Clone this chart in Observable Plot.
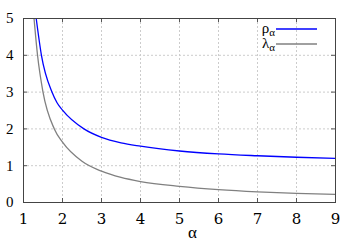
<!DOCTYPE html>
<html>
<head>
<meta charset="utf-8">
<script src="https://cdn.jsdelivr.net/npm/d3@7"></script>
<script src="https://cdn.jsdelivr.net/npm/@observablehq/plot@0.6"></script>
<style>
  html, body { margin: 0; padding: 0; background: white; }
</style>
</head>
<body>
<div id="chart"></div>
<script>
const xTicks = [1, 2, 3, 4, 5, 6, 7, 8, 9];
const yTicks = [0, 1, 2, 3, 4, 5];
const alphaRho = [1.326, 1.46, 1.73, 1.86, 2, 2.55, 3, 3.5, 4, 5, 6, 7, 8, 9];
const rho      = [5, 4, 3, 2.71, 2.51, 2.0, 1.77, 1.62, 1.53, 1.40, 1.32, 1.27, 1.23, 1.20];
const alphaLam = [1.27, 1.36, 1.50, 1.79, 2, 2.5, 3, 3.5, 4, 5, 6, 7, 8, 9];
const lam      = [5, 4, 3, 2, 1.64, 1.12, 0.85, 0.68, 0.57, 0.44, 0.35, 0.29, 0.25, 0.22];
const seriesNames = ["ρ", "λ"];
const subscript = "α";
const xLabel = "α";

const rhoData = alphaRho.map((a, i) => ({a, v: rho[i]}));
const lamData = alphaLam.map((a, i) => ({a, v: lam[i]}));

const W = 349, H = 244, mL = 23, mR = 14, mT = 18, mB = 42;
const innerW = W - mL - mR, innerH = H - mT - mB;
const tickLen = 4;
const blue = "#0000ff", gray = "#808080";
const serif = "Liberation Serif";

const chart = Plot.plot({
  width: W, height: H,
  marginLeft: mL, marginRight: mR, marginTop: mT, marginBottom: mB,
  style: {fontSize: "15px", color: "black", background: "white"},
  x: {domain: [1, 9], ticks: xTicks, label: null},
  y: {domain: [0, 5], ticks: yTicks, label: null},
  marks: [
    Plot.gridX(xTicks.slice(1, -1), {stroke: "#cccccc", strokeOpacity: 1, strokeDasharray: "2,2"}),
    Plot.gridY(yTicks.slice(1, -1), {stroke: "#cccccc", strokeOpacity: 1, strokeDasharray: "2,2"}),
    Plot.axisX(xTicks, {tickSize: 0, tickPadding: 11, tickFormat: d => String(d), fontSize: 15, fontFamily: "DejaVu Serif", fill: "black"}),
    Plot.axisY(yTicks, {tickSize: 0, tickPadding: 10, tickFormat: d => String(d), fontSize: 15, fontFamily: serif, fill: "black"}),
    Plot.ruleX(xTicks, {x: d => d, insetTop: innerH - tickLen, stroke: "#555"}),
    Plot.ruleX(xTicks, {x: d => d, insetBottom: innerH - tickLen, stroke: "#555"}),
    Plot.ruleY(yTicks, {y: d => d, insetRight: innerW - tickLen, stroke: "#555"}),
    Plot.ruleY(yTicks, {y: d => d, insetLeft: innerW - tickLen, stroke: "#555"}),
    Plot.line(lamData, {x: "a", y: "v", stroke: gray, strokeWidth: 1.3, curve: "monotone-x", clip: true}),
    Plot.line(rhoData, {x: "a", y: "v", stroke: blue, strokeWidth: 1.3, curve: "monotone-x", clip: true}),
    Plot.frame({stroke: "#444"}),
    Plot.text([xLabel], {text: d => d, frameAnchor: "bottom", dx: 13, dy: 35, fontSize: 17, fontFamily: serif, fill: "black"})
  ]
});
document.getElementById("chart").appendChild(chart);

// legend, top right inside the frame
const svg = d3.select(chart);
const leg = svg.append("g")
  .attr("font-family", "serif")
  .attr("font-size", 15);
const legendColors = [blue, gray];
seriesNames.forEach((name, i) => {
  const y = 29 + i * 15;
  const t = leg.append("text")
    .attr("x", 275).attr("y", y + 4)
    .attr("text-anchor", "end").attr("fill", "black");
  t.append("tspan").text(name);
  t.append("tspan").attr("dy", 3).attr("font-size", 11).text(subscript);
  leg.append("line")
    .attr("x1", 276).attr("x2", 317).attr("y1", y).attr("y2", y)
    .attr("stroke", legendColors[i]).attr("stroke-width", 1.3);
});
</script>
</body>
</html>
